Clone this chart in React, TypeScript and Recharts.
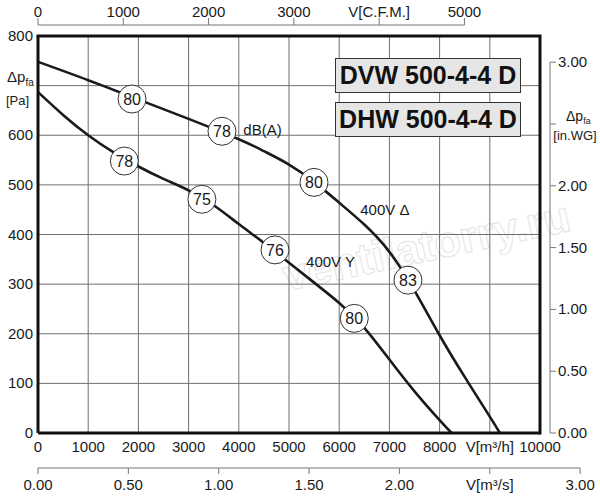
import React from 'react';
import {
  ComposedChart, Line, Scatter, XAxis, YAxis, CartesianGrid
} from 'recharts';

// axes
const flowTicks = [0, 1000, 2000, 3000, 4000, 5000, 6000, 7000, 8000, 9000, 10000];
const paTicks = [0, 100, 200, 300, 400, 500, 600, 700, 800];
const cfmTicks = [0, 1000, 2000, 3000, 4000, 5000];
const wgTicks = [0, 0.5, 1, 1.5, 2, 2.5, 3];
const m3sTicks = [0, 0.5, 1, 1.5, 2, 2.5, 3];

// 400V delta curve (m3/h, Pa)
const deltaQ = [0, 1000, 2000, 3000, 4000, 4500, 5000, 5500, 6000, 6500, 7000, 7500, 8000, 8500, 9000, 9200];
const deltaP = [748, 711, 672, 633, 592, 568, 541, 506, 464, 420, 365, 287, 197, 113, 33, 0];

// 400V Y curve
const starQ = [0, 500, 1000, 1500, 2000, 2500, 3000, 3500, 4000, 4500, 5000, 5500, 6000, 6500, 7000, 7500, 8000, 8240];
const starP = [687, 641, 600, 566, 537, 512, 489, 459, 421, 383, 343, 303, 262, 212, 148, 84, 26, 0];

// noise markers dB(A)
const deltaMarkQ = [1873, 3665, 5498, 7370];
const deltaMarkP = [673, 608, 505, 308];
const deltaMarkDb = ['80', '78', '80', '83'];
const starMarkQ = [1720, 3265, 4721, 6300];
const starMarkP = [548, 471, 369, 231];
const starMarkDb = ['78', '75', '76', '80'];

// notes
const noteQ = [4090, 6420, 5340];
const noteP = [610, 449, 345];
const noteText = ['dB(A)', '400V Δ', '400V Y'];

const titles = ['DVW 500-4-4 D', 'DHW 500-4-4 D'];

const M3H_PER_CFM = 1.69901;
const PA_PER_INWG = 249.089;
const FLOW_MAX = 10000;
const PA_MAX = 800;

// top and right edge of the plot frame
const frameQ = [0, FLOW_MAX, FLOW_MAX];
const frameP = [PA_MAX, PA_MAX, 0];

const W = 600;
const H = 500;
const TOP = 36;
const LEFT = 38;
const RIGHT = 60;
const BOTTOM1 = 35;
const BOTTOM2 = 32;
const PLOT_W = W - LEFT - RIGHT;
const PLOT_H = H - TOP - BOTTOM1 - BOTTOM2;

const FONT = '"Liberation Sans", Arial, sans-serif';
const INK = '#1a1a1a';
const AXIS = '#777';
const FRAME = { stroke: '#111', strokeWidth: 3 };

const deltaData = deltaQ.map((q, i) => ({
  q, p: deltaP[i], qs: q / 3600, qc: q / M3H_PER_CFM, pw: deltaP[i] / PA_PER_INWG,
}));
const starData = starQ.map((q, i) => ({ q, p: starP[i] }));
const frameData = frameQ.map((q, i) => ({ q, p: frameP[i] }));
const markData = [
  ...deltaMarkQ.map((q, i) => ({ q, p: deltaMarkP[i], t: deltaMarkDb[i] })),
  ...starMarkQ.map((q, i) => ({ q, p: starMarkP[i], t: starMarkDb[i] })),
];
const noteData = noteQ.map((q, i) => ({ q, p: noteP[i], t: noteText[i] }));

const cfmStep = (1000 * M3H_PER_CFM / FLOW_MAX) * PLOT_W;
const m3sStep = (0.5 * 3600 / FLOW_MAX) * PLOT_W;
const wgStep = (0.5 * PA_PER_INWG / PA_MAX) * PLOT_H;

const CfmTick = (props: any) => {
  const { x, y, payload } = props;
  const ly = y - 11;
  const v = payload.value;
  return (
    <g>
      {v > 0 && <line x1={x - cfmStep} y1={ly} x2={x} y2={ly} stroke={AXIS} />}
      <line x1={x} y1={ly} x2={x} y2={ly - 7} stroke={AXIS} />
      <text x={x} y={ly - 8} textAnchor="middle" fontSize={15} fill={INK}>
        {v === 4000 ? 'V[C.F.M.]' : v}
      </text>
    </g>
  );
};

const FlowTick = (props: any) => {
  const { x, y, payload } = props;
  const v = payload.value;
  return (
    <text x={x} y={y + 19} textAnchor="middle" fontSize={15} fill={INK}>
      {v === 9000 ? 'V[m³/h]' : v}
    </text>
  );
};

const M3sTick = (props: any) => {
  const { x, y, payload } = props;
  const v = payload.value;
  return (
    <g>
      {v > 0 && <line x1={x - m3sStep} y1={y} x2={x} y2={y} stroke={AXIS} />}
      <line x1={x} y1={y} x2={x} y2={y + 6} stroke={AXIS} />
      <text x={x} y={y + 22} textAnchor="middle" fontSize={15} fill={INK}>
        {v === 2.5 ? 'V[m³/s]' : v.toFixed(2)}
      </text>
    </g>
  );
};

const PaTick = (props: any) => {
  const { x, y, payload } = props;
  const v = payload.value;
  if (v === 700) {
    return (
      <g fill={INK}>
        <text x={7} y={y - 4} fontSize={15}>
          Δp<tspan fontSize={10} dy={4}>fa</tspan>
        </text>
        <text x={29} y={y + 19} fontSize={13} textAnchor="end">[Pa]</text>
      </g>
    );
  }
  return (
    <text x={x - 5} y={y + 5} textAnchor="end" fontSize={15} fill={INK}>{v}</text>
  );
};

const WgTick = (props: any) => {
  const { x, y, payload } = props;
  const v = payload.value;
  const ax = x + 10;
  return (
    <g>
      {v > 0 && <line x1={ax} y1={y} x2={ax} y2={y + wgStep} stroke={AXIS} />}
      <line x1={ax} y1={y} x2={ax + 6} y2={y} stroke={AXIS} />
      {v === 2.5 ? (
        <g fill={INK}>
          <text x={566} y={y - 3} fontSize={14}>
            Δp<tspan fontSize={9} dy={3}>fa</tspan>
          </text>
          <text x={575} y={y + 16} fontSize={13} textAnchor="middle">[in.WG]</text>
        </g>
      ) : (
        <text x={ax + 8} y={y + 5} fontSize={15} fill={INK}>{v.toFixed(2)}</text>
      )}
    </g>
  );
};

const Mark = (props: any) => {
  const { cx, cy, payload } = props;
  return (
    <g>
      <circle cx={cx} cy={cy} r={14} fill="#fff" stroke="#333" strokeWidth={1} />
      <text x={cx} y={cy + 6} textAnchor="middle" fontSize={16} fill={INK}>{payload.t}</text>
    </g>
  );
};

const Note = (props: any) => {
  const { cx, cy, payload } = props;
  return (
    <text x={cx} y={cy + 5} fontSize={15} fill={INK}>{payload.t}</text>
  );
};

const boxStyle = (top: number): React.CSSProperties => ({
  position: 'absolute',
  left: 335,
  top,
  width: 184,
  height: 33,
  background: '#e6e6e6',
  border: '1.5px solid #333',
  fontFamily: FONT,
  fontWeight: 'bold',
  fontSize: 25,
  lineHeight: '33px',
  textAlign: 'center',
  color: '#111',
});

export default function App() {
  return (
    <div style={{ position: 'absolute', left: 0, top: 0, width: W, height: H, fontFamily: FONT, background: '#fff' }}>
      <div
        style={{
          position: 'absolute', left: 278, top: 252, fontFamily: FONT, fontSize: 44, fontWeight: 'bold',
          lineHeight: '50px', color: 'transparent', WebkitTextStroke: '1px #e4e4e4', transform: 'rotate(-12deg)',
          transformOrigin: 'left top', whiteSpace: 'nowrap', pointerEvents: 'none',
        }}
      >
        ventilatorry.ru
      </div>
      <ComposedChart width={W} height={H} margin={{ top: 0, right: 0, bottom: 0, left: 0 }} style={{ position: 'absolute', left: 0, top: 0 }}>
        <CartesianGrid stroke="#6f6f6f" strokeWidth={1} />
        <XAxis
          dataKey="q" type="number" domain={[0, FLOW_MAX]} ticks={flowTicks}
          height={BOTTOM1} interval={0} tickSize={0} tickMargin={0}
          tickLine={false} axisLine={FRAME} tick={<FlowTick />}
        />
        <XAxis
          xAxisId="m3s" dataKey="qs" type="number" domain={[0, FLOW_MAX / 3600]} ticks={m3sTicks}
          height={BOTTOM2} interval={0} tickSize={0} tickMargin={0}
          tickLine={false} axisLine={false} tick={<M3sTick />}
        />
        <XAxis
          xAxisId="cfm" dataKey="qc" orientation="top" type="number" domain={[0, FLOW_MAX / M3H_PER_CFM]} ticks={cfmTicks}
          height={TOP} interval={0} tickSize={0} tickMargin={0}
          tickLine={false} axisLine={false} tick={<CfmTick />}
        />
        <YAxis
          type="number" domain={[0, PA_MAX]} ticks={paTicks} width={LEFT}
          interval={0} tickSize={0} tickMargin={0}
          tickLine={false} axisLine={FRAME} tick={<PaTick />}
        />
        <YAxis
          yAxisId="wg" orientation="right" type="number" domain={[0, PA_MAX / PA_PER_INWG]} ticks={wgTicks}
          width={RIGHT} interval={0} tickSize={0} tickMargin={0}
          tickLine={false} axisLine={false} tick={<WgTick />}
        />
        {/* same curve in the secondary units, invisible, so the extra axes get a scale */}
        <Line data={deltaData} xAxisId="m3s" dataKey="p" stroke="none" dot={false} isAnimationActive={false} />
        <Line data={deltaData} xAxisId="cfm" dataKey="p" stroke="none" dot={false} isAnimationActive={false} />
        <Line data={deltaData} yAxisId="wg" dataKey="pw" stroke="none" dot={false} isAnimationActive={false} />
        <Line data={frameData} dataKey="p" type="linear" dot={false} stroke="#111" strokeWidth={3} strokeLinecap="square" isAnimationActive={false} />
        <Line data={deltaData} dataKey="p" type="natural" dot={false} stroke={INK} strokeWidth={2.6} isAnimationActive={false} />
        <Line data={starData} dataKey="p" type="natural" dot={false} stroke={INK} strokeWidth={2.6} isAnimationActive={false} />
        <Scatter data={noteData} dataKey="p" shape={<Note />} isAnimationActive={false} />
        <Scatter data={markData} dataKey="p" shape={<Mark />} isAnimationActive={false} />
      </ComposedChart>
      <div style={boxStyle(58)}>{titles[0]}</div>
      <div style={boxStyle(102)}>{titles[1]}</div>
    </div>
  );
}
